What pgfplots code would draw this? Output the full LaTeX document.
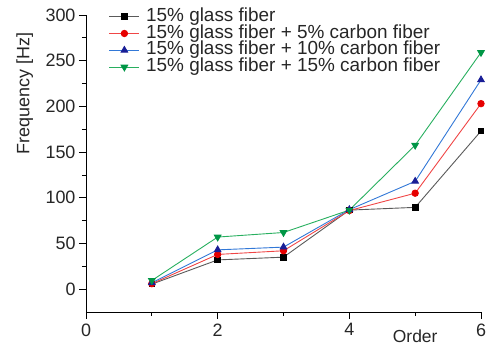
\documentclass[border=0pt]{standalone}
\usepackage{pgfplots}
\pgfplotsset{compat=1.18}
\usepackage{fontspec}
\setmainfont{Liberation Sans}
\definecolor{lblack}{RGB}{90,90,90}
\definecolor{lred}{RGB}{240,70,70}
\definecolor{mred}{RGB}{230,0,0}
\definecolor{lblue}{RGB}{50,120,215}
\definecolor{mblue}{RGB}{25,30,150}
\definecolor{lgreen}{RGB}{40,175,95}
\definecolor{mgreen}{RGB}{0,150,70}
\begin{document}
\begin{tikzpicture}
\useasboundingbox (-86bp,-33bp) rectangle (407bp,312bp);
\begin{axis}[
  at={(0,0)}, anchor=south west,
  scale only axis, width=395bp, height=297bp,
  xmin=0, xmax=6, ymin=-25, ymax=300,
  axis x line*=bottom, axis y line*=left,
  axis line style={-, line width=0.9bp},
  xtick={0,2,4,6}, minor x tick num=1,
  ytick={0,50,...,300}, minor y tick num=1,
  tick align=outside,
  major tick length=7bp, minor tick length=4bp,
  tick style={line width=0.8bp, black},
  /pgf/number format/assume math mode=true,
  tick label style={font=\fontsize{18}{19}\selectfont, text=black!85},
  xticklabel style={yshift=-1bp},
  xlabel={Order},
  xlabel style={at={(axis cs:5,-25)}, anchor=north, yshift=-14bp, font=\fontsize{17.5}{18}\selectfont, text=black!85},
  ylabel={Frequency [Hz]},
  ylabel style={at={(axis description cs:-0.155,0.736)}, anchor=center, font=\fontsize{18}{19}\selectfont, text=black!85},
  legend style={at={(0.05,1.03)}, anchor=north west, draw=none, fill=none,
    font=\fontsize{19}{20}\selectfont, text=black!85,
    nodes={inner sep=0.3pt, text height=12.8bp, text depth=3.4bp},
    /tikz/every odd column/.style={column sep=6bp},
    row sep=0pt},
  legend cell align=left,
  legend image code/.code={
    \draw[mark repeat=2,mark phase=2,#1] plot coordinates {(0bp,0bp) (15bp,0bp) (30bp,0bp)};
  },
  every axis plot/.append style={line width=0.9bp},
]
\addplot[color=lblack, mark=square*, mark size=2.8bp, mark options={fill=black, draw=black}]
  coordinates {(1,5.5) (2,32) (3,35) (4,86.5) (5,89.5) (6,173)};
\addlegendentry{15\% glass fiber}
\addplot[color=lred, mark=*, mark size=3.2bp, mark options={fill=mred, draw=mred}]
  coordinates {(1,6) (2,38) (3,42) (4,86) (5,105) (6,203)};
\addlegendentry{15\% glass fiber + 5\% carbon fiber}
\addplot[color=lblue, mark=triangle*, mark size=3.8bp, mark options={fill=mblue, draw=mblue}]
  coordinates {(1,7) (2,43) (3,46) (4,87) (5,118) (6,229)};
\addlegendentry{15\% glass fiber + 10\% carbon fiber}
\addplot[color=lgreen, mark=triangle*, mark size=3.8bp, mark options={fill=mgreen, draw=mgreen, rotate=180}]
  coordinates {(1,9.5) (2,57) (3,62) (4,86.5) (5,157.5) (6,259)};
\addlegendentry{15\% glass fiber + 15\% carbon fiber}
\end{axis}
\end{tikzpicture}
\end{document}
